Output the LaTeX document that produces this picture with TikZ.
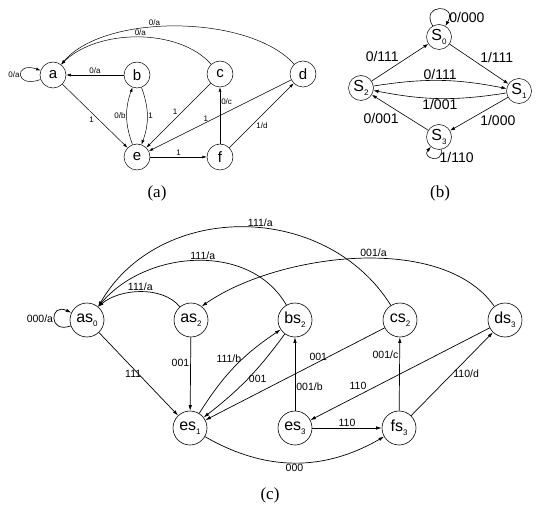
\documentclass[tikz,border=0pt]{standalone}
\usepackage{fontspec}
\setmainfont{Liberation Serif}
\setsansfont{Liberation Sans}
\usetikzlibrary{arrows.meta}

\begin{document}
\begin{tikzpicture}[x=1pt, y=1pt,
    stateA/.style={circle, draw, line width=0.5pt, minimum size=26pt, inner sep=0pt, font=\sffamily\fontsize{15}{15}\selectfont},
    stateB/.style={circle, draw, line width=0.5pt, minimum size=25pt, inner sep=0pt, font=\sffamily\fontsize{16}{16}\selectfont},
    stateC/.style={circle, draw, line width=0.6pt, minimum size=34pt, inner sep=0pt, font=\sffamily\fontsize{16}{16}\selectfont},
    edgeA/.style={line width=0.5pt, -{Latex[length=4.5pt,width=3pt]}},
    edgeB/.style={line width=0.6pt, -{Latex[length=5pt,width=3.5pt]}},
    edgeC/.style={line width=0.7pt, -{Latex[length=5.5pt,width=3.5pt]}},
    lblA/.style={font=\sffamily\fontsize{8}{8}\selectfont, inner sep=1pt},
    lblB/.style={font=\sffamily\fontsize{14}{14}\selectfont, inner sep=1pt},
    lblC/.style={font=\sffamily\fontsize{10.5}{10.5}\selectfont, inner sep=1pt},
    caption/.style={font=\fontsize{17}{17}\selectfont}
  ]
    \def\subidx#1{\raisebox{-0.5ex}{\fontsize{8}{8}\selectfont#1}}

    \useasboundingbox (0,0) rectangle (537,509);

    % Part (a)
    \node[stateA] (a) at (53,434) {a};
    \node[stateA] (b) at (137,434) {b};
    \node[stateA] (c) at (220,435) {c};
    \node[stateA] (d) at (303,435) {d};
    \node[stateA] (e) at (137,352) {e};
    \node[stateA] (f) at (220,352) {f};
    \node[caption] (capA) at (157,316) {(a)};

    \draw[edgeA] (a) to[out=200,in=160,distance=28pt] node[lblA, left] {0/a} (a);
    \draw[edgeA] (b) -- node[lblA, above] {0/a} (a);
    \draw[edgeA] (c.132) to[out=132,in=45,looseness=.85] node[lblA, above, pos=.48] {0/a} (a.52);
    \draw[edgeA] (d.132) to[out=132,in=50,looseness=.74] node[lblA, above, pos=.58] {0/a} (a.52);
    \draw[edgeA] (a) -- node[lblA, below left] {1} (e);
    \draw[edgeA] (e) to[bend left=20] node[lblA, left] {0/b} (b);
    \draw[edgeA] (b) to[bend left=20] node[lblA, right] {1} (e);
    \draw[edgeA] (c) -- node[lblA, above left] {1} (e);
    \draw[edgeA] (d) -- node[lblA, above, pos=.6] {1} (e);
    \draw[edgeA] (e) -- node[lblA, above] {1} (f);
    \draw[edgeA] (f) -- node[lblA, right, pos=.75] {0/c} (c);
    \draw[edgeA] (f) -- node[lblA, below right, pos=.4] {1/d} (d);

    % Part (b)
    \node[stateB] (s0) at (439,472) {S\subidx{0}};
    \node[stateB] (s1) at (519,418) {S\subidx{1}};
    \node[stateB] (s2) at (361,421) {S\subidx{2}};
    \node[stateB] (s3) at (439,372) {S\subidx{3}};
    \node[caption] (capB) at (440,316) {(b)};

    \draw[edgeB] (s0) to[out=120,in=60,distance=26pt] node[lblB, right, pos=.85] {0/000} (s0);
    \draw[edgeB] (s2) -- node[lblB, above left] {0/111} (s0);
    \draw[edgeB] (s0) -- node[lblB, above right] {1/111} (s1);
    \draw[edgeB] (s2) to[bend left=10] node[lblB, above] {0/111} (s1);
    \draw[edgeB] (s1) to[bend left=10] node[lblB, below] {1/001} (s2);
    \draw[edgeB] (s1) -- node[lblB, below right] {1/000} (s3);
    \draw[edgeB] (s3) -- node[lblB, below left] {0/001} (s2);
    \draw[edgeB] (s3) to[out=280,in=230,distance=15pt] node[lblB, right, pos=.3] {1/110} (s3);

    % Part (c)
    \node[stateC] (as0) at (87,189) {as\subidx{0}};
    \node[stateC] (as2) at (191,189) {as\subidx{2}};
    \node[stateC] (bs2) at (295,189) {bs\subidx{2}};
    \node[stateC] (cs2) at (400,189) {cs\subidx{2}};
    \node[stateC] (ds3) at (505,189) {ds\subidx{3}};
    \node[stateC] (es1) at (190,81) {es\subidx{1}};
    \node[stateC] (es3) at (295,81) {es\subidx{3}};
    \node[stateC] (fs3) at (399,81) {fs\subidx{3}};
    \node[caption] (capC) at (270,14) {(c)};

    \draw[edgeC] (as0) to[out=200,in=155,distance=24pt] node[lblC, left] {000/a} (as0);
    \draw[edgeC] (as2.130) to[out=130,in=40,looseness=.88] node[lblC, above] {111/a} (as0.50);
    \draw[edgeC] (bs2.120) to[out=120,in=50,looseness=1] node[lblC, above, pos=.47] {111/a} (as0.50);
    \draw[edgeC] (cs2.122) to[out=122,in=60,looseness=1.07] node[lblC, above, pos=.45] {111/a} (as0.50);
    \draw[edgeC] (ds3.128) to[out=125,in=35,looseness=.8] node[lblC, above, pos=.45] {001/a} (as2.52);
    \draw[edgeC] (as0) -- node[lblC, left, pos=.5, xshift=4pt] {111} (es1);
    \draw[edgeC] (as2) -- node[lblC, left, pos=.35] {001} (es1);
    \draw[edgeC] (es1) to[bend left=12] node[lblC, left, pos=.6] {111/b} (bs2);
    \draw[edgeC] (bs2) to[bend left=8] node[lblC, right, pos=.5] {001} (es1);
    \draw[edgeC] (cs2) -- node[lblC, above, pos=.37] {001} (es1);
    \draw[edgeC] (fs3) -- node[lblC, left, pos=.76] {001/c} (cs2);
    \draw[edgeC] (es3) -- node[lblC, right, pos=.32] {001/b} (bs2);
    \draw[edgeC] (ds3) -- node[lblC, above left, pos=.68] {110} (es3);
    \draw[edgeC] (fs3) -- node[lblC, right, pos=.5] {110/d} (ds3);
    \draw[edgeC] (es3) -- node[lblC, above] {110} (fs3);
    \draw[edgeC] (es1) to[bend right=30] node[lblC, below] {000} (fs3);

\end{tikzpicture}
\end{document}
